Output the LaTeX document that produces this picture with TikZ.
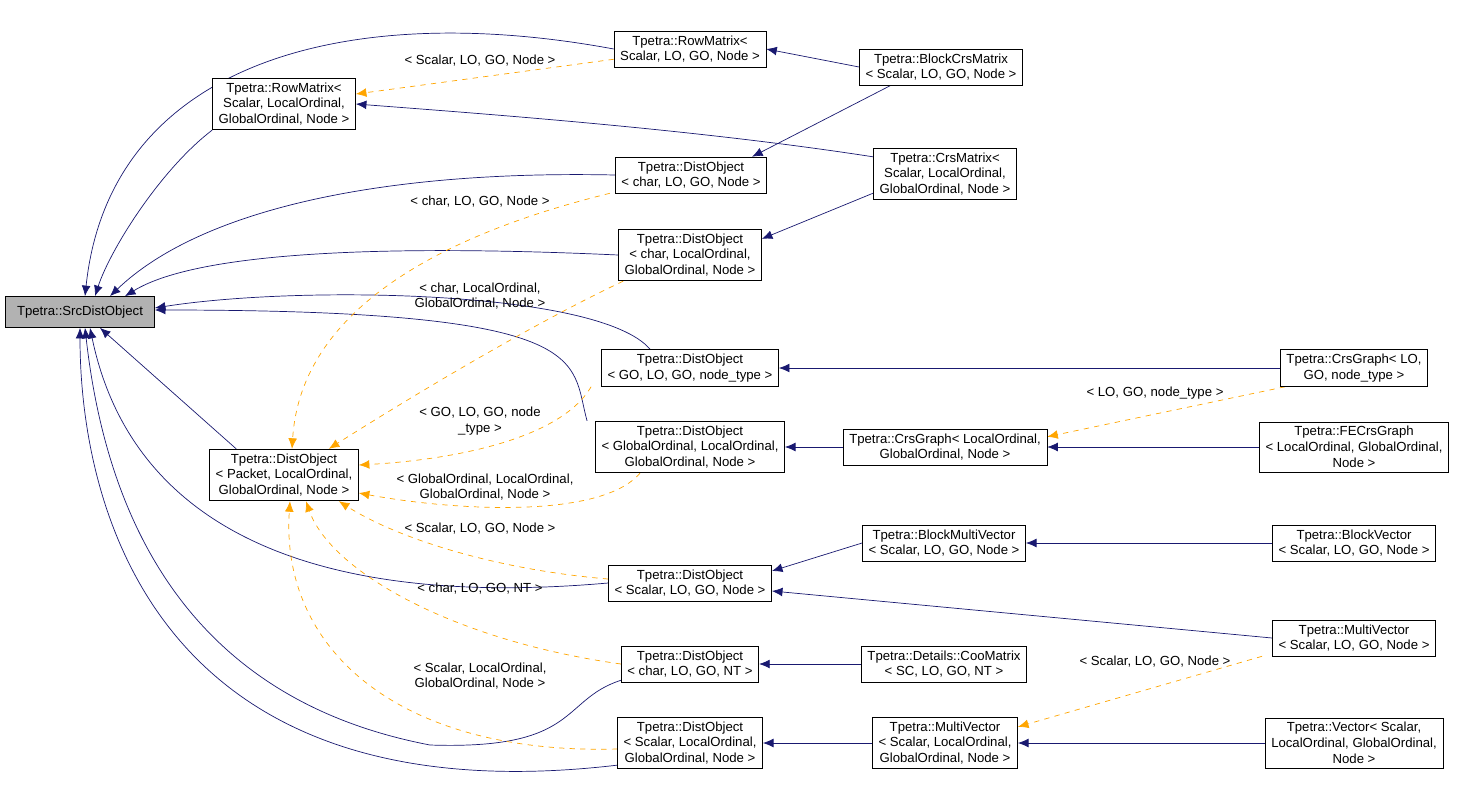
\documentclass[tikz,border=0pt]{standalone}
\usepackage{fontspec}
\setmainfont{Liberation Sans}
\usetikzlibrary{arrows.meta,calc,backgrounds}
\definecolor{edgeblue}{RGB}{25,25,112}
\definecolor{edgeorange}{RGB}{255,165,0}
\tikzset{
  cls/.style={draw, fill=white, align=center, inner xsep=3.5pt, inner ysep=2.5pt, font=\fontsize{7.5}{9}\selectfont},
  inh/.style={draw=edgeblue, -{Latex[length=6pt,width=5pt,fill=edgeblue]}},
  tpl/.style={draw=edgeorange, dashed, -{Latex[length=6pt,width=5pt,fill=edgeorange]}},
  lbl/.style={align=center, inner sep=0pt, font=\fontsize{7.5}{9}\selectfont}
}
\begin{document}
\begin{tikzpicture}[x=0.02cm, y=-0.02cm]
  \useasboundingbox (0,0) rectangle (1459,798);

  % classes
  \node[cls, fill=black!30, minimum width=149*0.02cm, minimum height=31*0.02cm] (src) at (80,312) {Tpetra::SrcDistObject};
  \node[cls] (rm1) at (690,49) {Tpetra::RowMatrix<\\Scalar, LO, GO, Node >};
  \node[cls] (bcm) at (941,67) {Tpetra::BlockCrsMatrix\\< Scalar, LO, GO, Node >};
  \node[cls] (rm2) at (284,104) {Tpetra::RowMatrix<\\Scalar, LocalOrdinal,\\GlobalOrdinal, Node >};
  \node[cls] (crs) at (945,174) {Tpetra::CrsMatrix<\\Scalar, LocalOrdinal,\\GlobalOrdinal, Node >};
  \node[cls] (do1) at (691,175) {Tpetra::DistObject\\< char, LO, GO, Node >};
  \node[cls] (do2) at (690,255) {Tpetra::DistObject\\< char, LocalOrdinal,\\GlobalOrdinal, Node >};
  \node[cls] (do3) at (690,368) {Tpetra::DistObject\\< GO, LO, GO, node\_type >};
  \node[cls] (cg1) at (1354,368) {Tpetra::CrsGraph< LO,\\GO, node\_type >};
  \node[cls] (do4) at (284,475) {Tpetra::DistObject\\< Packet, LocalOrdinal,\\GlobalOrdinal, Node >};
  \node[cls] (do5) at (690,447) {Tpetra::DistObject\\< GlobalOrdinal, LocalOrdinal,\\GlobalOrdinal, Node >};
  \node[cls] (cg2) at (945,447) {Tpetra::CrsGraph< LocalOrdinal,\\GlobalOrdinal, Node >};
  \node[cls] (fec) at (1354,447) {Tpetra::FECrsGraph\\< LocalOrdinal, GlobalOrdinal,\\Node >};
  \node[cls] (bmv) at (944,543) {Tpetra::BlockMultiVector\\< Scalar, LO, GO, Node >};
  \node[cls] (bv) at (1354,543) {Tpetra::BlockVector\\< Scalar, LO, GO, Node >};
  \node[cls] (do6) at (690,583) {Tpetra::DistObject\\< Scalar, LO, GO, Node >};
  \node[cls] (mv1) at (1354,638) {Tpetra::MultiVector\\< Scalar, LO, GO, Node >};
  \node[cls] (do7) at (690,664) {Tpetra::DistObject\\< char, LO, GO, NT >};
  \node[cls] (coo) at (944,664) {Tpetra::Details::CooMatrix\\< SC, LO, GO, NT >};
  \node[cls] (do8) at (690,743) {Tpetra::DistObject\\< Scalar, LocalOrdinal,\\GlobalOrdinal, Node >};
  \node[cls] (mv2) at (945,743) {Tpetra::MultiVector\\< Scalar, LocalOrdinal,\\GlobalOrdinal, Node >};
  \node[cls] (vec) at (1354,743) {Tpetra::Vector< Scalar,\\LocalOrdinal, GlobalOrdinal,\\Node >};

  \begin{scope}[on background layer]
  % inheritance into the source object
  \draw[inh] (rm1.west) .. controls (350,0) and (110,60) .. ($(src.north)+(5,0)$);
  \draw[inh] (rm2.south west) .. controls (160,170) and (110,250) .. ($(src.north)+(15,0)$);
  \draw[inh] (do1.west) .. controls (380,170) and (200,210) .. ($(src.north)+(30,0)$);
  \draw[inh] (do2.west) .. controls (400,245) and (200,250) .. ($(src.north)+(45,0)$);
  \draw[inh] ($(do3.north)+(-40,0)$) .. controls (600,290) and (300,285) .. ($(src.east)+(0,-4)$);
  \draw[inh] ($(do5.north west)+(-8,0)$) .. controls (570,360) and (600,310) .. ($(src.east)+(0,-2)$) ;
  \draw[inh] ($(do4.north west)+(27,0)$) -- ($(src.south)+(20,0)$);
  \draw[inh] (do6.west) .. controls (300,610) and (130,520) .. ($(src.south)+(10,0)$);
  \draw[inh] ($(do7.south west)+(0,-2)$) .. controls (560,700) and (580,750) .. (430,745)
    .. controls (300,720) and (120,640) .. ($(src.south)+(5,0)$);
  \draw[inh] ($(do8.south west)+(0,-4)$) .. controls (150,820) and (80,500) .. (src.south);

  % other inheritance
  \draw[inh] (bcm.west) -- (rm1.east);
  \draw[inh] ($(bcm.south)+(-50,0)$) -- ($(do1.north east)+(-15,0)$);
  \draw[inh] ($(crs.north west)+(0,9)$) .. controls (700,130) and (500,115) .. (rm2.east);
  \draw[inh] ($(crs.south west)+(0,-7)$) -- ($(do2.north east)+(0,10)$);
  \draw[inh] (cg1.west) -- (do3.east);
  \draw[inh] (cg2.west) -- (do5.east);
  \draw[inh] (fec.west) -- (cg2.east);
  \draw[inh] (bmv.west) -- ($(do6.east)+(0,-12)$);
  \draw[inh] (bv.west) -- (bmv.east);
  \draw[inh] (mv1.west) -- ($(do6.east)+(0,8)$);
  \draw[inh] (coo.west) -- (do7.east);
  \draw[inh] (mv2.west) -- (do8.east);
  \draw[inh] (vec.west) -- (mv2.east);

  % template instances
  \draw[tpl] ($(rm1.south west)+(0,-8)$) -- ($(rm2.east)+(0,-10)$);
  \draw[tpl] ($(do1.south west)+(-5,0)$) .. controls (420,240) and (300,320) .. ($(do4.north)+(8,0)$);
  \draw[tpl] ($(do2.south west)+(5,0)$) .. controls (520,330) and (390,410) .. ($(do4.north east)+(-30,0)$);
  \draw[tpl] ($(do3.south west)+(-10,0)$) .. controls (560,440) and (450,460) .. ($(do4.east)+(0,-10)$);
  \draw[tpl] ($(do5.south)+(-50,0)$) .. controls (600,520) and (450,510) .. ($(do4.east)+(0,18)$);
  \draw[tpl] ($(do6.west)+(0,-4)$) .. controls (500,570) and (400,540) .. ($(do4.south east)+(-20,0)$);
  \draw[tpl] (do7.west) .. controls (450,640) and (330,570) .. ($(do4.south)+(22,0)$);
  \draw[tpl] ($(do8.west)+(0,6)$) .. controls (400,755) and (280,650) .. ($(do4.south)+(6,0)$);
  \draw[tpl] ($(cg1.south west)+(5,0)$) -- ($(cg2.north east)+(0,8)$);
  \draw[tpl] ($(mv1.south west)+(-10,0)$) -- ($(mv2.north east)+(0,10)$);
  \end{scope}

  % labels
  \node[lbl] (l1) at (480,61) {< Scalar, LO, GO, Node >};
  \node[lbl] (l2) at (480,202) {< char, LO, GO, Node >};
  \node[lbl] (l3) at (480,296) {< char, LocalOrdinal,\\GlobalOrdinal, Node >};
  \node[lbl] (l4) at (480,421) {< GO, LO, GO, node\\\_type >};
  \node[lbl] (l5) at (485,487) {< GlobalOrdinal, LocalOrdinal,\\GlobalOrdinal, Node >};
  \node[lbl] (l6) at (480,529) {< Scalar, LO, GO, Node >};
  \node[lbl] (l7) at (480,589) {< char, LO, GO, NT >};
  \node[lbl] (l8) at (480,676) {< Scalar, LocalOrdinal,\\GlobalOrdinal, Node >};
  \node[lbl] (l9) at (1155,393) {< LO, GO, node\_type >};
  \node[lbl] (l10) at (1155,662) {< Scalar, LO, GO, Node >};
\end{tikzpicture}
\end{document}
